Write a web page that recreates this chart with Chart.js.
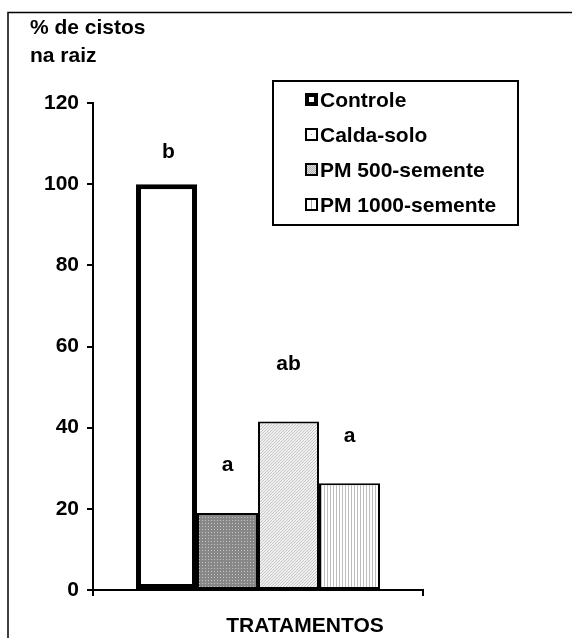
<!DOCTYPE html>
<html><head><meta charset="utf-8">
<script src="https://cdn.jsdelivr.net/npm/chart.js@4"></script>
<style>html,body{margin:0;padding:0;background:#fff}#wrap{width:572px;height:638px}</style>
</head><body><div id="wrap"><canvas id="c" width="572" height="638"></canvas></div>
<script>
const categories = [''];
const seriesNames = ['Controle', 'Calda-solo', 'PM 500-semente', 'PM 1000-semente'];
const seriesValues = [100, 19, 41.5, 26.3];
const significance = ['b', 'a', 'ab', 'a'];
const yTicks = [0, 20, 40, 60, 80, 100, 120];
const yTitle = ['% de cistos', 'na raiz'];
const xTitle = 'TRATAMENTOS';

// style: gap (px) between bar top and its significance letter
const letterGap = [32, 48, 57, 47];

const FONT = '"Liberation Sans", Arial, sans-serif';
const FS = 21;

function makePattern(kind) {
  const c = document.createElement('canvas');
  const ctx = c.getContext('2d');
  if (kind === 'dots') {
    c.width = 3; c.height = 3;
    ctx.fillStyle = '#878787'; ctx.fillRect(0,0,3,3);
    ctx.fillStyle = '#c4c4c4'; ctx.fillRect(1,1,1,1);
  } else if (kind === 'diag') {
    c.width = 3; c.height = 3;
    ctx.fillStyle = '#f0f0f0'; ctx.fillRect(0,0,3,3);
    ctx.fillStyle = '#c6c6c6';
    for (let i = 0; i < 3; i++) ctx.fillRect(i, 2 - i, 1, 1);
  } else if (kind === 'vert') {
    c.width = 3; c.height = 3;
    ctx.fillStyle = '#ffffff'; ctx.fillRect(0,0,3,3);
    ctx.fillStyle = '#bcbcbc'; ctx.fillRect(0,0,1,3);
  } else if (kind === 'swatchGray') {
    c.width = 2; c.height = 2;
    ctx.fillStyle = '#b0b0b0'; ctx.fillRect(0,0,2,2);
    ctx.fillStyle = '#e0e0e0'; ctx.fillRect(0,0,1,1); ctx.fillRect(1,1,1,1);
  }
  return document.getElementById('c').getContext('2d').createPattern(c, 'repeat');
}

const fills = ['#ffffff', makePattern('dots'), makePattern('diag'), makePattern('vert')];
const borders = [5, 2, 2, 2];
const swatchGray = makePattern('swatchGray');

const datasets = seriesNames.map((n, i) => ({
  label: n,
  data: [seriesValues[i]],
  backgroundColor: fills[i],
  borderColor: '#000',
  borderWidth: borders[i],
  borderSkipped: false,
  categoryPercentage: 244/330,
  barPercentage: 1
}));

const deco = {
  id: 'deco',
  afterDraw(chart) {
    const ctx = chart.ctx;
    ctx.save();
    ctx.strokeStyle = '#000'; ctx.lineWidth = 1.5;
    ctx.beginPath(); ctx.moveTo(8, 638); ctx.lineTo(8, 12.5); ctx.lineTo(572, 12.5); ctx.stroke();
    ctx.fillStyle = '#000';
    ctx.font = 'bold ' + FS + 'px ' + FONT;
    ctx.textBaseline = 'middle'; ctx.textAlign = 'left';
    ctx.fillText(yTitle[0], 30, 28);
    ctx.fillText(yTitle[1], 30, 56);
    ctx.textAlign = 'center';
    const xs = chart.scales.x;
    ctx.fillText(xTitle, (xs.left + xs.right) / 2 + 47, 626);
    chart.data.datasets.forEach((ds, i) => {
      const bar = chart.getDatasetMeta(i).data[0];
      ctx.fillText(significance[i], bar.x + (i === 0 ? 2 : 0), bar.y - letterGap[i]);
    });
    // legend
    const L = 273, T = 81, R = 518, B = 225;
    ctx.lineWidth = 2;
    ctx.strokeRect(L, T, R - L, B - T);
    ctx.textAlign = 'left';
    chart.data.datasets.forEach((ds, i) => {
      const cy = 100 + i * 35;
      const sx = 305, sz = 13, top = cy - 7;
      ctx.fillStyle = '#000';
      ctx.fillRect(sx, top, sz, sz);
      if (i === 0) {
        ctx.fillStyle = '#fff'; ctx.fillRect(sx + 4, top + 4, sz - 8, sz - 8);
      } else if (i === 1) {
        ctx.fillStyle = '#fff'; ctx.fillRect(sx + 2, top + 2, sz - 4, sz - 4);
        ctx.fillStyle = '#999'; ctx.fillRect(sx + 6, top + 6, 1, 1);
      } else if (i === 2) {
        ctx.fillStyle = swatchGray; ctx.fillRect(sx + 2, top + 2, sz - 4, sz - 4);
      } else {
        ctx.fillStyle = '#fff'; ctx.fillRect(sx + 2, top + 2, sz - 4, sz - 4);
        ctx.fillStyle = '#aaa'; ctx.fillRect(sx + 6, top + 2, 1, sz - 4);
      }
      ctx.fillStyle = '#000';
      ctx.fillText(ds.label, 320, cy + 1);
    });
    ctx.restore();
  }
};

new Chart(document.getElementById('c'), {
  type: 'bar',
  data: { labels: categories, datasets },
  options: {
    responsive: false,
    animation: false,
    layout: { padding: { left: 0, right: 149, top: 103, bottom: 42 } },
    plugins: { legend: { display: false }, tooltip: { enabled: false } },
    scales: {
      x: {
        grid: { display: true, drawOnChartArea: false, drawTicks: true, tickLength: 6, color: '#000', lineWidth: 2, offset: true },
        border: { display: true, color: '#000', width: 2 },
        ticks: { display: false },
        afterFit(s) { s.height = 6; }
      },
      y: {
        min: 0, max: 120,
        afterBuildTicks(s) { s.ticks = yTicks.map(v => ({ value: v })); },
        grid: { display: true, drawOnChartArea: false, drawTicks: true, tickLength: 6, color: '#000', lineWidth: 2 },
        border: { display: true, color: '#000', width: 2 },
        ticks: { color: '#000', padding: 8, font: { family: FONT, size: FS, weight: 'bold' } },
        afterFit(s) { s.width = 93; }
      }
    }
  },
  plugins: [deco]
});
</script></body></html>
